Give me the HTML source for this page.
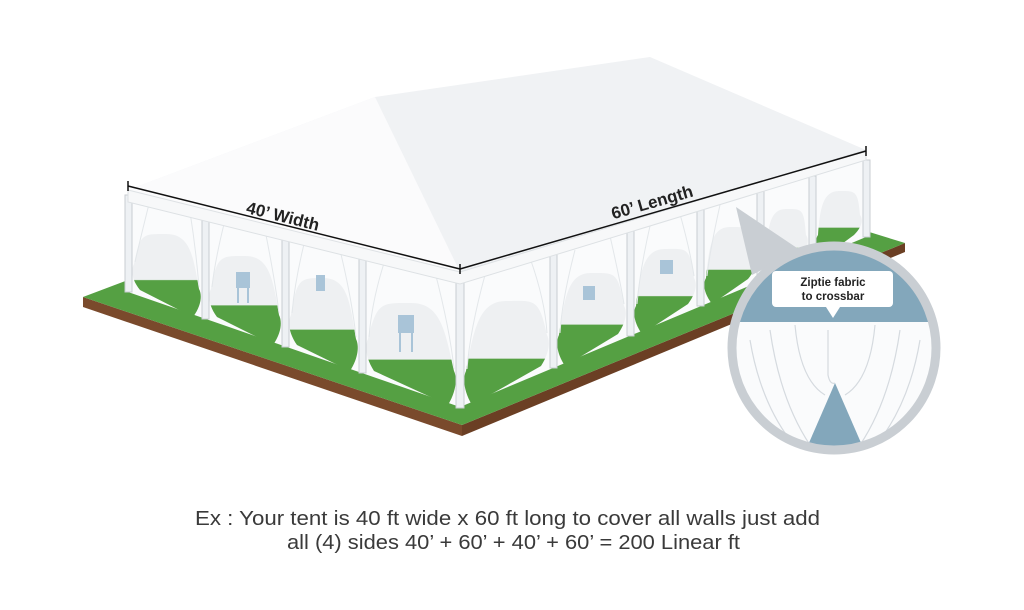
<!DOCTYPE html>
<html><head><style>
body{margin:0;background:#fff;width:1024px;height:610px;overflow:hidden}
svg{display:block}
</style></head><body>
<svg width="1024" height="610" viewBox="0 0 1024 610">
<defs>
<clipPath id="cc"><circle cx="834" cy="348" r="100"/></clipPath>
<linearGradient id="op" x1="0" y1="0" x2="0" y2="1">
<stop offset="0" stop-color="#eef0f2"/><stop offset="0.55" stop-color="#eef0f2"/><stop offset="0.56" stop-color="#55a043"/><stop offset="1" stop-color="#55a043"/>
</linearGradient>
</defs>
<!-- floor -->
<polygon points="83,297 462,425 462,436 83,307" fill="#7a4a2c"/>
<polygon points="462,425 905,243 905,252 462,436" fill="#6b3f24"/>
<polygon points="83,297 300,215 700,180 905,243 462,425" fill="#55a043"/>
<!-- curtain wall -->
<polygon points="128,195 460,278 866,160 866,237 460,407 128,292" fill="#fafbfc"/>
<!-- openings -->
<g fill="url(#op)">
<path d="M140,290 C131,279 131,269 134,264 C140,233 143,234 166,234 C190,234 193,255 199,289 C202,294 202,305 193,317 Z"/>
<path d="M217,317 C208,305 208,294 211,289 C217,255 221,256 245,256 C269,256 273,278 279,315 C282,321 282,332 273,345 Z"/>
<path d="M297,345 C288,332 288,321 291,315 C297,278 300,278 323,278 C347,278 350,301 356,339 C359,345 359,357 350,371 Z"/>
<path d="M374,371 C365,357 365,345 368,339 C377,301 382,303 411,303 C440,303 445,329 454,371 C457,377 457,390 448,405 Z"/>
<path d="M472,405 C463,390 463,377 466,371 C474,329 479,301 506,301 C534,301 539,297 547,335 C550,341 550,352 541,366 Z"/>
<path d="M565,366 C556,352 556,341 559,335 C565,297 568,273 591,273 C615,273 618,271 624,306 C627,311 627,321 618,334 Z"/>
<path d="M642,334 C633,321 633,311 636,306 C640,271 644,249 665,249 C686,249 690,246 694,278 C697,283 697,292 688,304 Z"/>
<path d="M712,304 C703,292 703,283 706,278 C709,246 712,227 730,227 C748,227 751,226 754,255 C757,260 757,268 748,279 Z"/>
<path d="M772,279 C763,268 763,260 766,255 C768,226 770,209 786,209 C802,209 804,208 806,235 C809,239 809,247 800,257 Z"/>
<path d="M824,257 C815,247 815,239 818,235 C820,208 823,191 839,191 C855,191 858,190 860,215 C863,219 863,226 854,235 Z"/>
</g>
<!-- chairs -->
<g fill="#a9c4d8"><rect x="236" y="272" width="14" height="16"/><rect x="398" y="315" width="16" height="18"/><rect x="583" y="286" width="12" height="14"/><rect x="660" y="260" width="13" height="14"/><rect x="316" y="275" width="9" height="16"/></g>
<g stroke="#a9c4d8" stroke-width="2"><line x1="238" y1="288" x2="238" y2="303"/><line x1="248" y1="288" x2="248" y2="303"/><line x1="400" y1="333" x2="400" y2="352"/><line x1="412" y1="333" x2="412" y2="352"/></g>
<!-- curtain folds -->
<g stroke="#e3e7ea" stroke-width="1" fill="none">
<path d="M150,200 Q140,240 135,262"/><path d="M225,220 Q215,260 212,287"/><path d="M305,240 Q295,280 292,313"/><path d="M385,260 Q372,300 369,337"/>
<path d="M485,275 Q470,330 467,369"/><path d="M575,250 Q562,300 560,333"/><path d="M650,226 Q640,270 637,304"/><path d="M720,205 Q710,250 707,276"/>
<path d="M190,212 Q196,250 199,287"/><path d="M265,230 Q275,280 279,313"/><path d="M340,250 Q352,300 356,337"/><path d="M435,272 Q450,330 454,369"/>
<path d="M530,258 Q545,300 547,333"/><path d="M610,236 Q620,280 624,304"/><path d="M680,214 Q690,250 694,276"/>
</g>
<!-- poles -->
<g fill="#eef1f4" stroke="#c8cdd2" stroke-width="1">
<rect x="125" y="195" width="7" height="97"/><rect x="202" y="214" width="7" height="105"/><rect x="282" y="234" width="7" height="113"/><rect x="359" y="254" width="7" height="119"/><rect x="456" y="278" width="8" height="130"/><rect x="550" y="251" width="7" height="117"/><rect x="627" y="229" width="7" height="107"/><rect x="697" y="208" width="7" height="98"/><rect x="757" y="191" width="7" height="90"/><rect x="809" y="176" width="7" height="83"/><rect x="863" y="160" width="7" height="77"/>
</g>
<!-- roof -->
<polygon points="128,190 375,97 650,57 866,150 460,272" fill="#f0f2f4"/>
<polygon points="128,190 375,97 460,272" fill="#fbfbfc"/>
<polygon points="128,190 460,272 866,150 866,160 460,284 128,202" fill="#f7f8f9" stroke="#dde1e4" stroke-width="1"/>
<!-- dimension lines -->
<g stroke="#111" stroke-width="1.5" fill="none">
<line x1="128" y1="186" x2="460" y2="269"/><line x1="460" y1="269" x2="866" y2="151"/>
<line x1="128" y1="181" x2="128" y2="191"/><line x1="866" y1="146" x2="866" y2="156"/><line x1="460" y1="264" x2="460" y2="274"/>
</g>
<text x="283" y="222" font-family="Liberation Sans,sans-serif" font-weight="bold" font-size="17" fill="#222" text-anchor="middle" transform="rotate(14 283 216)">40’ Width</text>
<text x="652" y="208" font-family="Liberation Sans,sans-serif" font-weight="bold" font-size="17" fill="#222" text-anchor="middle" transform="rotate(-16 652 202)">60’ Length</text>
<!-- callout tail -->
<polygon points="736,207 752,275 800,250" fill="#c9ced3"/>
<!-- circle -->
<circle cx="834" cy="348" r="102" fill="#fafbfc"/>
<g clip-path="url(#cc)">
<rect x="720" y="240" width="230" height="82" fill="#83a7bb"/>
<polygon points="835,383 805,452 865,452" fill="#83a7bb"/>
<g stroke="#d5dadf" fill="none" stroke-width="1.2">
<path d="M750 340 Q760 400 790 440"/><path d="M770 330 Q780 400 810 445"/><path d="M795 325 Q800 380 825 395"/>
<path d="M920 340 Q910 400 880 440"/><path d="M900 330 Q890 400 860 445"/><path d="M875 325 Q870 380 845 395"/>
<path d="M828 330 L828 375 Q830 385 835 383"/>
</g>
</g>
<circle cx="834" cy="348" r="102" fill="none" stroke="#c9ced3" stroke-width="9"/>
<rect x="772" y="271" width="121" height="36" rx="4" fill="#fff"/>
<polygon points="826,307 840,307 833,318" fill="#fff"/>
<text x="833" y="286" font-family="Liberation Sans,sans-serif" font-weight="bold" font-size="11.5" fill="#222" text-anchor="middle">Ziptie fabric</text>
<text x="833" y="300" font-family="Liberation Sans,sans-serif" font-weight="bold" font-size="11.5" fill="#222" text-anchor="middle">to crossbar</text>
<!-- caption -->
<text x="195" y="525" font-family="Liberation Sans,sans-serif" font-size="20" fill="#3a3a3a" textLength="625" lengthAdjust="spacingAndGlyphs">Ex : Your tent is 40 ft wide x 60 ft long to cover all walls just add</text>
<text x="287" y="549" font-family="Liberation Sans,sans-serif" font-size="20" fill="#3a3a3a" textLength="453" lengthAdjust="spacingAndGlyphs">all (4) sides 40’ + 60’ + 40’ + 60’ = 200 Linear ft</text>
</svg>
</body></html>
